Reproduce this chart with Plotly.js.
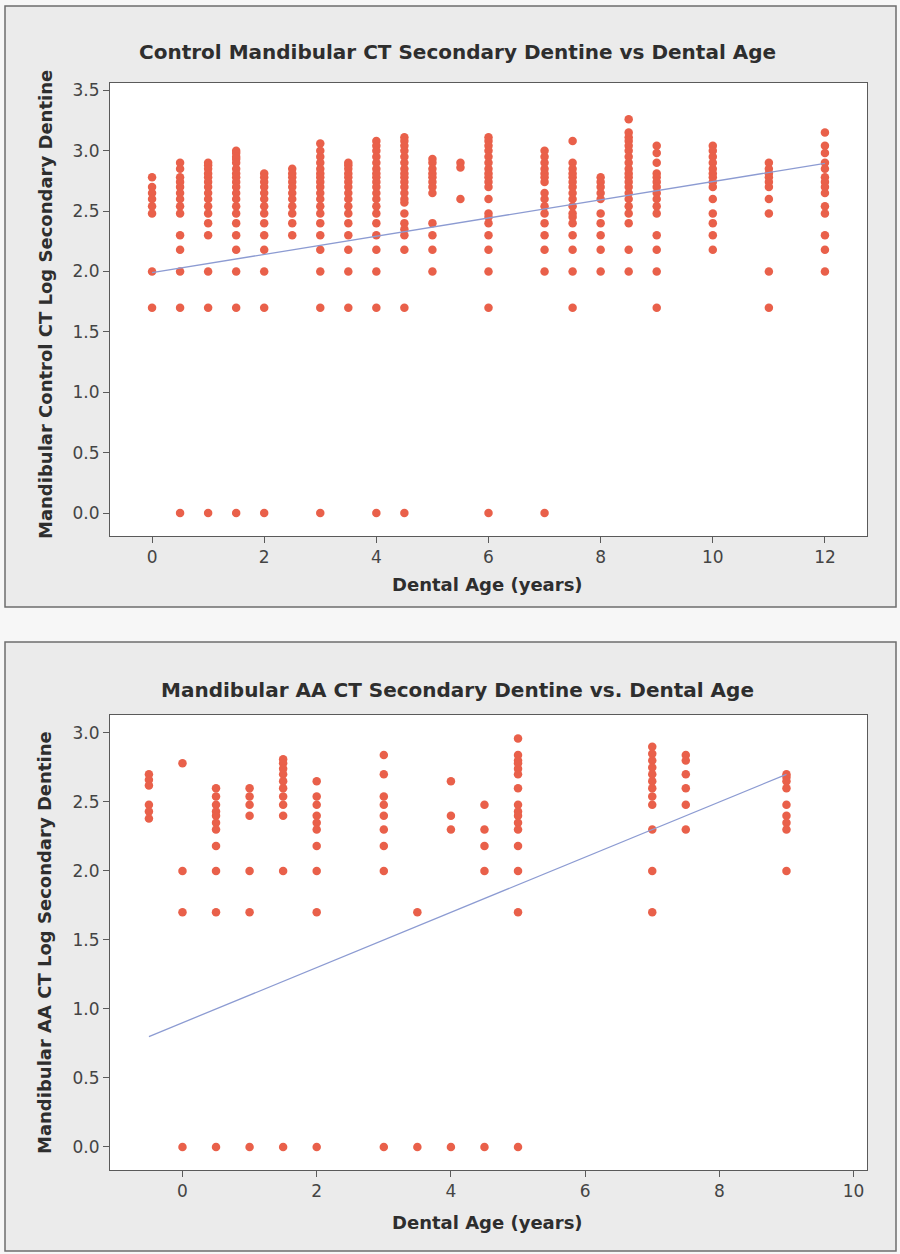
<!DOCTYPE html>
<html>
<head>
<meta charset="utf-8">
<script src="https://cdn.plot.ly/plotly-3.0.1.min.js"></script>
<style>
html,body{margin:0;padding:0;background:#f7f7f7;}
#chart{width:900px;height:1254px;}
</style>
</head>
<body>
<div id="chart"></div>
<script>
// ---- Panel 1: Control ----
const ctrlAges = [0, 0.5, 1, 1.5, 2, 2.5, 3, 3.5, 4, 4.5, 5, 5.5, 6, 7, 7.5, 8, 8.5, 9, 10, 11, 12];
const ctrlValues = [
  [2.78, 2.70, 2.65, 2.60, 2.54, 2.48, 2.00, 1.70],
  [2.90, 2.85, 2.78, 2.74, 2.70, 2.65, 2.60, 2.54, 2.48, 2.30, 2.18, 2.00, 1.70, 0],
  [2.90, 2.88, 2.85, 2.81, 2.78, 2.74, 2.70, 2.65, 2.60, 2.54, 2.48, 2.40, 2.30, 2.00, 1.70, 0],
  [3.00, 2.98, 2.95, 2.93, 2.90, 2.85, 2.81, 2.78, 2.74, 2.70, 2.65, 2.60, 2.54, 2.48, 2.40, 2.30, 2.18, 2.00, 1.70, 0],
  [2.81, 2.78, 2.74, 2.70, 2.65, 2.60, 2.54, 2.48, 2.40, 2.30, 2.18, 2.00, 1.70, 0],
  [2.85, 2.81, 2.78, 2.74, 2.70, 2.65, 2.60, 2.54, 2.48, 2.40, 2.30],
  [3.06, 3.00, 2.95, 2.90, 2.85, 2.81, 2.78, 2.74, 2.70, 2.65, 2.60, 2.54, 2.48, 2.40, 2.30, 2.18, 2.00, 1.70, 0],
  [2.90, 2.88, 2.85, 2.81, 2.78, 2.74, 2.70, 2.65, 2.60, 2.54, 2.48, 2.40, 2.30, 2.18, 2.00, 1.70],
  [3.08, 3.04, 3.00, 2.95, 2.90, 2.85, 2.81, 2.78, 2.74, 2.70, 2.65, 2.60, 2.54, 2.48, 2.40, 2.30, 2.18, 2.00, 1.70, 0],
  [3.11, 3.08, 3.04, 3.00, 2.95, 2.90, 2.85, 2.81, 2.78, 2.74, 2.70, 2.65, 2.60, 2.57, 2.48, 2.40, 2.35, 2.30, 2.18, 1.70, 0],
  [2.93, 2.90, 2.85, 2.81, 2.78, 2.74, 2.70, 2.65, 2.40, 2.30, 2.18, 2.00],
  [2.90, 2.86, 2.60],
  [3.11, 3.08, 3.04, 3.00, 2.95, 2.90, 2.85, 2.81, 2.78, 2.74, 2.70, 2.60, 2.48, 2.45, 2.40, 2.30, 2.18, 2.00, 1.70, 0],
  [3.00, 2.95, 2.90, 2.85, 2.81, 2.78, 2.74, 2.65, 2.60, 2.54, 2.48, 2.40, 2.30, 2.18, 2.00, 0],
  [3.08, 2.90, 2.85, 2.81, 2.78, 2.74, 2.70, 2.65, 2.60, 2.54, 2.48, 2.45, 2.40, 2.30, 2.18, 2.00, 1.70],
  [2.78, 2.74, 2.70, 2.65, 2.60, 2.48, 2.40, 2.30, 2.18, 2.00],
  [3.26, 3.15, 3.11, 3.08, 3.04, 3.00, 2.95, 2.90, 2.85, 2.81, 2.78, 2.74, 2.70, 2.65, 2.60, 2.54, 2.48, 2.40, 2.18, 2.00],
  [3.04, 2.98, 2.90, 2.81, 2.78, 2.74, 2.70, 2.65, 2.60, 2.54, 2.48, 2.30, 2.18, 2.00, 1.70],
  [3.04, 3.00, 2.95, 2.90, 2.85, 2.81, 2.78, 2.74, 2.70, 2.60, 2.48, 2.40, 2.30, 2.18],
  [2.90, 2.85, 2.81, 2.78, 2.74, 2.70, 2.60, 2.48, 2.00, 1.70],
  [3.15, 3.04, 2.98, 2.90, 2.85, 2.78, 2.74, 2.70, 2.65, 2.54, 2.48, 2.30, 2.18, 2.00]
];
const ctrlFitX = [0, 12];
const ctrlFitY = [1.99, 2.895];

// ---- Panel 2: AA ----
const aaAges = [-0.5, 0, 0.5, 1, 1.5, 2, 3, 3.5, 4, 4.5, 5, 7, 7.5, 9];
const aaValues = [
  [2.70, 2.66, 2.62, 2.48, 2.43, 2.38],
  [2.78, 2.00, 1.70, 0],
  [2.60, 2.54, 2.48, 2.43, 2.40, 2.35, 2.30, 2.18, 2.00, 1.70, 0],
  [2.60, 2.54, 2.48, 2.40, 2.00, 1.70, 0],
  [2.81, 2.78, 2.74, 2.70, 2.65, 2.60, 2.54, 2.48, 2.40, 2.00, 0],
  [2.65, 2.54, 2.48, 2.40, 2.35, 2.30, 2.18, 2.00, 1.70, 0],
  [2.84, 2.70, 2.54, 2.48, 2.40, 2.30, 2.18, 2.00, 0],
  [1.70, 0],
  [2.65, 2.40, 2.30, 0],
  [2.48, 2.30, 2.18, 2.00, 0],
  [2.96, 2.84, 2.80, 2.78, 2.74, 2.70, 2.60, 2.48, 2.43, 2.40, 2.35, 2.30, 2.18, 2.00, 1.70, 0],
  [2.90, 2.85, 2.80, 2.75, 2.70, 2.65, 2.60, 2.54, 2.48, 2.30, 2.00, 1.70],
  [2.84, 2.80, 2.70, 2.60, 2.48, 2.30],
  [2.70, 2.68, 2.65, 2.60, 2.48, 2.40, 2.35, 2.30, 2.00]
];
const aaFitX = [-0.5, 9];
const aaFitY = [0.80, 2.70];

const panelTitles = ["Control Mandibular CT Secondary Dentine vs Dental Age",
                     "Mandibular AA CT Secondary Dentine vs. Dental Age"];
const yTitles = ["Mandibular Control CT Log Secondary Dentine",
                 "Mandibular AA CT Log Secondary Dentine"];
const xTitle = "Dental Age (years)";

function flatten(ages, vals) {
  const xs = [], ys = [];
  ages.forEach((a, i) => vals[i].forEach(v => { xs.push(a); ys.push(v); }));
  return {xs, ys};
}
const c = flatten(ctrlAges, ctrlValues);
const a = flatten(aaAges, aaValues);

const W = 900, H = 1254;
const px = v => v / W;
const py = v => 1 - v / H;

const dotColor = '#e9604a';
const lineColor = '#8c9bd2';
const FONT = 'DejaVu Sans, Verdana, sans-serif';

const traces = [
  {x: c.xs, y: c.ys, type: 'scatter', mode: 'markers', xaxis: 'x', yaxis: 'y',
   marker: {color: dotColor, size: 8.5}, showlegend: false},
  {x: ctrlFitX, y: ctrlFitY, type: 'scatter', mode: 'lines', xaxis: 'x', yaxis: 'y',
   line: {color: lineColor, width: 1.3}, showlegend: false},
  {x: a.xs, y: a.ys, type: 'scatter', mode: 'markers', xaxis: 'x2', yaxis: 'y2',
   marker: {color: dotColor, size: 8.5}, showlegend: false},
  {x: aaFitX, y: aaFitY, type: 'scatter', mode: 'lines', xaxis: 'x2', yaxis: 'y2',
   line: {color: lineColor, width: 1.3}, showlegend: false}
];

const axBase = {
  showline: true, mirror: true, linecolor: '#5a5a5a', linewidth: 1,
  ticks: 'outside', ticklen: 6, tickcolor: '#5a5a5a', tickwidth: 1,
  showgrid: false, zeroline: false,
  tickfont: {family: FONT, size: 17, color: '#444'}
};

const layout = {
  width: W, height: H,
  margin: {l: 0, r: 0, t: 0, b: 0},
  paper_bgcolor: '#f7f7f7',
  plot_bgcolor: '#ffffff',
  showlegend: false,
  xaxis: Object.assign({}, axBase, {domain: [px(110), px(867)], range: [-0.75, 12.75],
    tickvals: [0, 2, 4, 6, 8, 10, 12], anchor: 'y'}),
  yaxis: Object.assign({}, axBase, {domain: [py(536), py(83)], range: [-0.19, 3.56],
    tickvals: [0, 0.5, 1, 1.5, 2, 2.5, 3, 3.5], tickformat: '.1f', anchor: 'x'}),
  xaxis2: Object.assign({}, axBase, {domain: [px(110), px(867)], range: [-1.08, 10.2],
    tickvals: [0, 2, 4, 6, 8, 10], anchor: 'y2'}),
  yaxis2: Object.assign({}, axBase, {domain: [py(1170), py(715)], range: [-0.167, 3.13],
    tickvals: [0, 0.5, 1, 1.5, 2, 2.5, 3], tickformat: '.1f', anchor: 'x2'}),
  shapes: [
    {type: 'rect', xref: 'paper', yref: 'paper', x0: px(5), x1: px(896), y0: py(607), y1: py(6),
     fillcolor: '#ebebeb', line: {color: '#6e6e6e', width: 1.5}, layer: 'below'},
    {type: 'rect', xref: 'paper', yref: 'paper', x0: px(5), x1: px(896), y0: py(1251), y1: py(642),
     fillcolor: '#ebebeb', line: {color: '#6e6e6e', width: 1.5}, layer: 'below'},
    {type: 'rect', xref: 'x domain', yref: 'y domain', x0: 0, x1: 1, y0: 0, y1: 1,
     fillcolor: '#ffffff', line: {width: 0}, layer: 'below'},
    {type: 'rect', xref: 'x2 domain', yref: 'y2 domain', x0: 0, x1: 1, y0: 0, y1: 1,
     fillcolor: '#ffffff', line: {width: 0}, layer: 'below'}
  ],
  annotations: [
    {text: '<b>' + panelTitles[0] + '</b>', xref: 'paper', yref: 'paper', x: px(458), y: py(52),
     showarrow: false, font: {family: FONT, size: 20, color: '#2e2e2e'}, xanchor: 'center', yanchor: 'middle'},
    {text: '<b>' + panelTitles[1] + '</b>', xref: 'paper', yref: 'paper', x: px(457), y: py(690),
     showarrow: false, font: {family: FONT, size: 20, color: '#2e2e2e'}, xanchor: 'center', yanchor: 'middle'},
    {text: '<b>' + xTitle + '</b>', xref: 'paper', yref: 'paper', x: px(487), y: py(585),
     showarrow: false, font: {family: FONT, size: 18, color: '#2e2e2e'}, xanchor: 'center', yanchor: 'middle'},
    {text: '<b>' + xTitle + '</b>', xref: 'paper', yref: 'paper', x: px(487), y: py(1222),
     showarrow: false, font: {family: FONT, size: 18, color: '#2e2e2e'}, xanchor: 'center', yanchor: 'middle'},
    {text: '<b>' + yTitles[0] + '</b>', xref: 'paper', yref: 'paper', x: px(45), y: py(305),
     showarrow: false, textangle: -90, font: {family: FONT, size: 18, color: '#2e2e2e'}, xanchor: 'center', yanchor: 'middle'},
    {text: '<b>' + yTitles[1] + '</b>', xref: 'paper', yref: 'paper', x: px(45), y: py(943),
     showarrow: false, textangle: -90, font: {family: FONT, size: 18, color: '#2e2e2e'}, xanchor: 'center', yanchor: 'middle'}
  ]
};

Plotly.newPlot('chart', traces, layout, {displayModeBar: false, staticPlot: true});
</script>
</body>
</html>
